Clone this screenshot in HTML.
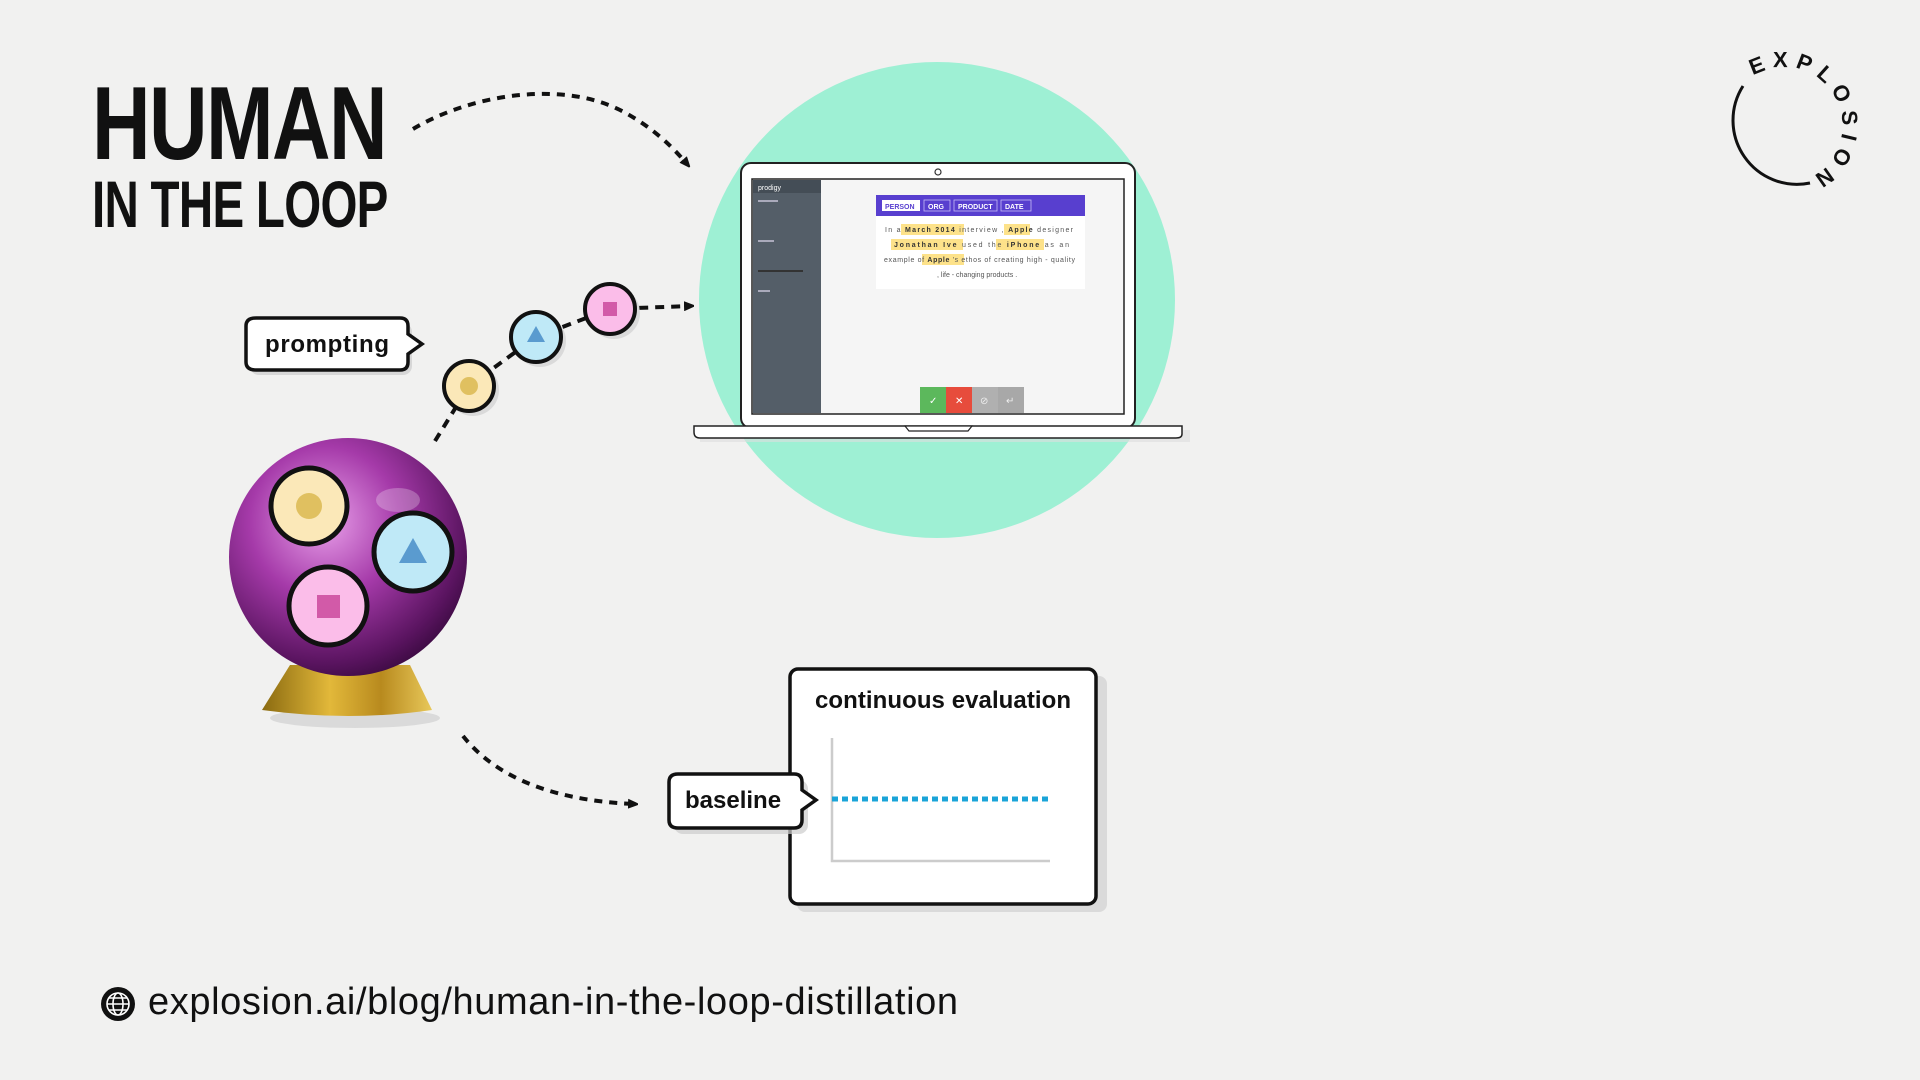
<!DOCTYPE html>
<html><head><meta charset="utf-8"><style>
html,body{margin:0;padding:0;background:#f1f1f0;}
svg{display:block}
text{font-family:"Liberation Sans",sans-serif}
</style></head><body>
<svg width="1920" height="1080" viewBox="0 0 1920 1080" xmlns="http://www.w3.org/2000/svg">
<defs>
<radialGradient id="ball" cx="0.4" cy="0.35" r="0.7">
<stop offset="0" stop-color="#e9a0ea"/><stop offset="0.45" stop-color="#a53aa9"/><stop offset="0.85" stop-color="#5a1460"/><stop offset="1" stop-color="#3a0a40"/></radialGradient>
<linearGradient id="gold" x1="0" x2="1"><stop offset="0" stop-color="#8a6a10"/><stop offset="0.4" stop-color="#e2b83a"/><stop offset="0.7" stop-color="#b88a1e"/><stop offset="1" stop-color="#e8c85a"/></linearGradient>
<marker id="ah" markerWidth="10" markerHeight="10" refX="6" refY="5" orient="auto" markerUnits="userSpaceOnUse"><path d="M0,0 L12,5 L0,10 Z" fill="#111"/></marker>
</defs>
<rect width="1920" height="1080" fill="#f1f1f0"/>

<!-- title -->
<g transform="translate(92,159) scale(0.78,1)"><text x="0" y="0" font-size="104" font-weight="bold" fill="#111" letter-spacing="-2">HUMAN</text></g>
<g transform="translate(92,227) scale(0.72,1)"><text x="0" y="0" font-size="66" font-weight="bold" fill="#111" letter-spacing="-1">IN THE LOOP</text></g>

<!-- arc arrow top -->
<path d="M413,129 C470,95 560,80 620,110 C655,128 675,150 687,164" fill="none" stroke="#111" stroke-width="4" stroke-dasharray="8,7" marker-end="url(#ah)"/>

<!-- green circle -->
<circle cx="937" cy="300" r="238" fill="#9ef0d4"/>

<!-- laptop -->
<rect x="700" y="430" width="490" height="12" fill="#ddd" opacity="0.6"/>
<rect x="741" y="163" width="394" height="265" rx="10" fill="#fff" stroke="#222" stroke-width="2"/>
<circle cx="938" cy="172" r="3" fill="none" stroke="#333" stroke-width="1.2"/>
<rect x="752" y="179" width="372" height="235" fill="#f5f5f5" stroke="#222" stroke-width="1.5"/>
<rect x="753" y="180" width="68" height="233" fill="#545e68"/>
<rect x="753" y="180" width="68" height="13" fill="#444d56"/>
<text x="758" y="190" font-size="7" fill="#fff">prodigy</text>
<g fill="#aab"><rect x="758" y="200" width="20" height="2"/><rect x="758" y="240" width="16" height="2"/><rect x="758" y="270" width="45" height="2" fill="#333"/><rect x="758" y="290" width="12" height="2"/></g>
<rect x="876" y="195" width="209" height="21" fill="#583fcf"/>
<rect x="882" y="200" width="38" height="11" fill="#fff"/><text x="885" y="209" font-size="7" font-weight="bold" fill="#583fcf">PERSON</text>
<rect x="924" y="200" width="26" height="11" fill="none" stroke="#c8bdf5" stroke-width="0.8"/><text x="928" y="209" font-size="7" font-weight="bold" fill="#fff">ORG</text>
<rect x="954" y="200" width="43" height="11" fill="none" stroke="#c8bdf5" stroke-width="0.8"/><text x="958" y="209" font-size="7" font-weight="bold" fill="#fff">PRODUCT</text>
<rect x="1001" y="200" width="30" height="11" fill="none" stroke="#c8bdf5" stroke-width="0.8"/><text x="1005" y="209" font-size="7" font-weight="bold" fill="#fff">DATE</text>
<rect x="876" y="216" width="209" height="73" fill="#fff"/>
<g font-size="7" fill="#555">
<rect x="901" y="224" width="63" height="11" fill="#fde28a"/><rect x="1004" y="224" width="26" height="11" fill="#fde28a"/>
<rect x="891" y="239" width="72" height="11" fill="#fde28a"/><rect x="996" y="239" width="48" height="11" fill="#fde28a"/>
<rect x="922" y="254" width="42" height="11" fill="#fde28a"/>
<text x="885" y="232" textLength="188">In a  <tspan font-weight="bold" fill="#333">March 2014</tspan>  interview ,  <tspan font-weight="bold" fill="#333">Apple</tspan>  designer</text>
<text x="894" y="247" textLength="175"><tspan font-weight="bold" fill="#333">Jonathan Ive</tspan>  used the  <tspan font-weight="bold" fill="#333">iPhone</tspan>  as an</text>
<text x="884" y="262" textLength="191">example of  <tspan font-weight="bold" fill="#333">Apple</tspan>  's ethos of creating high - quality</text>
<text x="937" y="277">, life - changing products .</text>
</g>
<rect x="920" y="387" width="26" height="26" fill="#5cb85c"/><text x="929" y="404" font-size="10" fill="#fff">✓</text>
<rect x="946" y="387" width="26" height="26" fill="#e74c3c"/><text x="955" y="404" font-size="10" fill="#fff">✕</text>
<rect x="972" y="387" width="26" height="26" fill="#b0b0b0"/><text x="980" y="404" font-size="10" fill="#eee">⊘</text>
<rect x="998" y="387" width="26" height="26" fill="#a8a8a8"/><text x="1006" y="404" font-size="10" fill="#eee">↵</text>
<path d="M694,426 H1182 V434 Q1182,438 1176,438 H700 Q694,438 694,432 Z" fill="#fff" stroke="#222" stroke-width="1.5"/>
<path d="M905,426 H972 L968,431 H909 Z" fill="#fff" stroke="#222" stroke-width="1.2"/>

<!-- prompting label -->
<rect x="250" y="323" width="162" height="52" rx="9" fill="#ccc" opacity="0.7"/>
<path d="M256,318 H400 Q408,318 408,326 V334 L422,344 L408,354 V362 Q408,370 400,370 H256 Q246,370 246,362 V326 Q246,318 256,318 Z" fill="#fff" stroke="#111" stroke-width="3.5"/>
<text x="265" y="352" font-size="24" font-weight="bold" fill="#111" textLength="124">prompting</text>

<!-- dashed chain -->
<path d="M435,441 L469,386 L536,337 L610,309 L690,306" fill="none" stroke="#111" stroke-width="4" stroke-dasharray="9,7" marker-end="url(#ah)"/>
<g stroke="#111" stroke-width="4">
<circle cx="473" cy="390" r="26" fill="#ccc" stroke="none" opacity="0.6"/>
<circle cx="469" cy="386" r="25" fill="#fbe8b8"/>
<circle cx="540" cy="341" r="26" fill="#ccc" stroke="none" opacity="0.6"/>
<circle cx="536" cy="337" r="25" fill="#bfe9f7"/>
<circle cx="614" cy="313" r="26" fill="#ccc" stroke="none" opacity="0.6"/>
<circle cx="610" cy="309" r="25" fill="#fbbde9"/>
</g>
<circle cx="469" cy="386" r="9" fill="#e0c060"/>
<path d="M536,326 L545,342 L527,342 Z" fill="#5a9bcf"/>
<rect x="603" y="302" width="14" height="14" fill="#d25aa8"/>

<!-- crystal ball -->
<ellipse cx="355" cy="718" rx="85" ry="10" fill="#ccc" opacity="0.6"/>
<path d="M290,665 L410,665 L432,710 Q350,722 262,710 Z" fill="url(#gold)"/>
<circle cx="348" cy="557" r="119" fill="url(#ball)"/>
<ellipse cx="398" cy="500" rx="22" ry="12" fill="#fff" opacity="0.25"/>
<g stroke="#111" stroke-width="5">
<circle cx="309" cy="506" r="38" fill="#fbe8b8"/>
<circle cx="413" cy="552" r="39" fill="#bfe9f7"/>
<circle cx="328" cy="606" r="39" fill="#fbbde9"/>
</g>
<circle cx="309" cy="506" r="13" fill="#e0c060"/>
<path d="M413,538 L427,563 L399,563 Z" fill="#5a9bcf"/>
<rect x="317" y="595" width="23" height="23" fill="#d25aa8"/>

<!-- bottom arrow -->
<path d="M463,736 C490,770 540,800 634,804" fill="none" stroke="#111" stroke-width="4" stroke-dasharray="8,7" marker-end="url(#ah)"/>

<!-- eval box -->
<rect x="797" y="676" width="310" height="236" rx="8" fill="#ccc" opacity="0.6"/>
<rect x="790" y="669" width="306" height="235" rx="8" fill="#fff" stroke="#111" stroke-width="3.5"/>
<text x="815" y="708" font-size="24" font-weight="bold" fill="#111" textLength="256">continuous evaluation</text>
<path d="M832,738 V861 H1050" fill="none" stroke="#ccc" stroke-width="2.5"/>
<line x1="832" y1="799" x2="1050" y2="799" stroke="#1aa4d8" stroke-width="5" stroke-dasharray="6,4"/>

<!-- baseline label -->
<rect x="674" y="780" width="134" height="54" rx="9" fill="#ccc" opacity="0.7"/>
<path d="M678,774 H794 Q802,774 802,782 V790 L816,800 L802,810 V820 Q802,828 794,828 H678 Q669,828 669,820 V782 Q669,774 678,774 Z" fill="#fff" stroke="#111" stroke-width="3.5"/>
<text x="685" y="808" font-size="24" font-weight="bold" fill="#111">baseline</text>

<!-- url -->
<circle cx="118" cy="1004" r="17" fill="#111"/>
<g fill="none" stroke="#fff" stroke-width="1.6"><circle cx="118" cy="1004" r="11"/><ellipse cx="118" cy="1004" rx="5" ry="11"/><line x1="107" y1="1004" x2="129" y2="1004"/><line x1="109" y1="998" x2="127" y2="998"/><line x1="109" y1="1010" x2="127" y2="1010"/></g>
<text x="148" y="1014" font-size="38" fill="#111" textLength="810">explosion.ai/blog/human-in-the-loop-distillation</text>

<!-- explosion logo -->
<path id="lg" d="M1753,76 A58,58 0 0,1 1815,175" fill="none"/>
<path d="M1743,86 A64,64 0 0,0 1810,183" fill="none" stroke="#111" stroke-width="3"/>
<text font-size="22" font-weight="bold" fill="#111" letter-spacing="7"><textPath href="#lg" startOffset="0">EXPLOSION</textPath></text>
</svg>
</body></html>
